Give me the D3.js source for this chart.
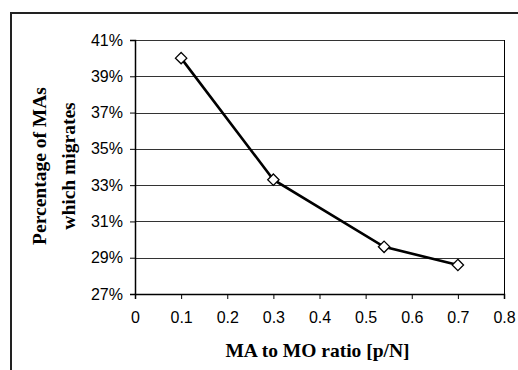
<!DOCTYPE html>
<html>
<head>
<meta charset="utf-8">
<script src="https://cdn.jsdelivr.net/npm/d3@7"></script>
<style>
  html, body { margin: 0; padding: 0; background: #fff; }
  svg { display: block; }
</style>
</head>
<body>
<div id="chart"></div>
<script>
// data
const ratios = [0.1, 0.3, 0.54, 0.7];
const migratePct = [40.0, 33.3, 29.6, 28.6];
const xTicks = [0, 0.1, 0.2, 0.3, 0.4, 0.5, 0.6, 0.7, 0.8];
const yTicks = [27, 29, 31, 33, 35, 37, 39, 41];
const xTitle = 'MA to MO ratio [p/N]';
const yTitleLines = ['Percentage of MAs', 'which migrates'];

const W = 518, H = 370;
const margin = { top: 40, right: 14, bottom: 76, left: 135 };
const width = W - margin.left - margin.right;
const height = H - margin.top - margin.bottom;

const svg = d3.select('#chart').append('svg')
  .attr('width', W)
  .attr('height', H);

// outer frame (only left and top edges show)
svg.append('path')
  .attr('d', `M11,${H} L11,13 L${W},13`)
  .attr('fill', 'none')
  .attr('stroke', '#222')
  .attr('stroke-width', 2);

const g = svg.append('g')
  .attr('transform', `translate(${margin.left},${margin.top})`);

const x = d3.scaleLinear().domain([0, 0.8]).range([0, width]);
const y = d3.scaleLinear().domain([27, 41]).range([height, 0]);

// gridlines
g.append('g')
  .selectAll('line')
  .data(yTicks.filter(d => d > 27))
  .join('line')
  .attr('x1', 0)
  .attr('x2', width)
  .attr('y1', d => Math.round(y(d)) + 0.5)
  .attr('y2', d => Math.round(y(d)) + 0.5)
  .attr('stroke', '#333')
  .attr('stroke-width', 1);

// right border
g.append('line')
  .attr('x1', width + 0.5).attr('x2', width + 0.5)
  .attr('y1', 0).attr('y2', height)
  .attr('stroke', '#000');

const tickFont = 'Arial, "Liberation Sans", sans-serif';

const xAxis = g.append('g')
  .attr('transform', `translate(0,${height})`)
  .call(d3.axisBottom(x).tickValues(xTicks).tickSize(5).tickPadding(13)
    .tickFormat(d => d === 0 ? '0' : d3.format('.1f')(d)));

const yAxis = g.append('g')
  .call(d3.axisLeft(y).tickValues(yTicks).tickSize(5).tickPadding(7)
    .tickFormat(d => d + '%'));

[xAxis, yAxis].forEach(a => {
  a.select('.domain').attr('stroke', '#000').attr('stroke-width', 1.5);
  a.selectAll('.tick line').attr('stroke', '#000');
  a.selectAll('.tick text')
    .attr('font-family', tickFont)
    .attr('font-size', '16px')
    .attr('fill', '#000');
});

// series line
const line = d3.line()
  .x((d, i) => x(ratios[i]))
  .y(d => y(d));

g.append('path')
  .datum(migratePct)
  .attr('d', line)
  .attr('fill', 'none')
  .attr('stroke', '#000')
  .attr('stroke-width', 2.6);

// diamond markers
const diamond = d3.symbol().type(d3.symbolDiamond2).size(82);
g.append('g')
  .selectAll('path')
  .data(migratePct)
  .join('path')
  .attr('d', diamond)
  .attr('transform', (d, i) => `translate(${x(ratios[i])},${y(d)})`)
  .attr('fill', '#fff')
  .attr('stroke', '#000')
  .attr('stroke-width', 1.3);

// titles
const titleFont = '"Times New Roman", "Liberation Serif", serif';

svg.append('text')
  .attr('x', margin.left + width / 2 - 2)
  .attr('y', 357)
  .attr('text-anchor', 'middle')
  .attr('font-family', titleFont)
  .attr('font-weight', 'bold')
  .attr('font-size', '19.5px')
  .text(xTitle);

const yt = svg.append('text')
  .attr('transform', 'translate(46,166) rotate(-90)')
  .attr('text-anchor', 'middle')
  .attr('font-family', titleFont)
  .attr('font-weight', 'bold')
  .attr('font-size', '19.5px');

yt.selectAll('tspan')
  .data(yTitleLines)
  .join('tspan')
  .attr('x', 0)
  .attr('dy', (d, i) => i === 0 ? 0 : 29)
  .text(d => d);
</script>
</body>
</html>
